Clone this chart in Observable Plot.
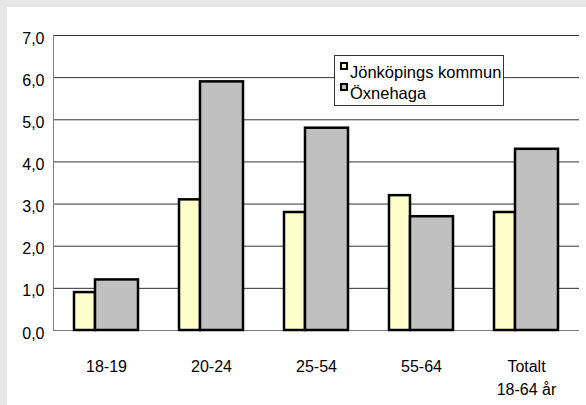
<!DOCTYPE html>
<html>
<head>
<meta charset="utf-8">
<script src="https://cdn.jsdelivr.net/npm/d3@7"></script>
<script src="https://cdn.jsdelivr.net/npm/@observablehq/plot@0.6"></script>
<style>
  html, body { margin: 0; padding: 0; width: 586px; height: 405px; overflow: hidden; background: #e6e6e6; font-family: "Liberation Sans", Arial, sans-serif; }
  #panel { position: absolute; left: 7px; top: 7px; width: 579px; height: 398px; background: #fff; }
  #chart { position: absolute; left: 0; top: 0; }
  #legend { position: absolute; left: 334px; top: 55px; width: 168px; height: 49px; background: #fff; border: 1px solid #333; }
  .sw { position: absolute; width: 4px; height: 4px; border: 2px solid #000; }
  .lt { position: absolute; font-size: 16.5px; line-height: 16px; color: #000; white-space: nowrap; }
</style>
</head>
<body>
<div id="panel"></div>
<div id="chart"></div>
<div id="legend"></div>
<script>
const categories = ["18-19", "20-24", "25-54", "55-64", "Totalt\n18-64 år"];
const jonkoping = [0.9, 3.1, 2.8, 3.2, 2.8];
const oxnehaga = [1.2, 5.9, 4.8, 2.7, 4.3];
const seriesNames = ["Jönköpings kommun", "Öxnehaga"];
const seriesColors = ["#ffffcc", "#c0c0c0"];
const yTicks = [0, 1, 2, 3, 4, 5, 6, 7];

const data = categories.map((c, i) => ({cat: c, j: jonkoping[i], o: oxnehaga[i]}));
const fmt = d => d.toFixed(1).replace(".", ",");

const chart = Plot.plot({
  width: 586,
  height: 405,
  marginLeft: 53,
  marginRight: 7,
  marginTop: 35,
  marginBottom: 75,
  style: {fontFamily: "Liberation Sans, Arial, sans-serif", fontSize: "16px", color: "#000", background: "transparent", overflow: "visible"},
  x: {domain: categories, paddingInner: 0.39, paddingOuter: 0.195, axis: null, label: null},
  y: {domain: [0, 7], axis: null, label: null},
  marks: [
    Plot.ruleY(yTicks.filter(d => d > 0), {stroke: "#333", strokeWidth: 1}),
    Plot.ruleY([0], {stroke: "#808080", strokeWidth: 1}),
    Plot.frame({anchor: "left", stroke: "#808080", strokeWidth: 1}),
    Plot.barY(data, {x: "cat", y: "j", fill: seriesColors[0], stroke: "#000", strokeWidth: 2.5, insetRight: 43}),
    Plot.barY(data, {x: "cat", y: "o", fill: seriesColors[1], stroke: "#000", strokeWidth: 2.5, insetLeft: 21}),
    Plot.axisY(yTicks, {tickSize: 0, tickPadding: 9, fontSize: 16, tickFormat: fmt, dy: 3, fill: "#000", label: null}),
    Plot.axisX({tickSize: 0, tickPadding: 25, fontSize: 16, lineHeight: 1.44, fill: "#000", label: null})
  ]
});
document.getElementById("chart").appendChild(chart);

// legend
const legend = document.getElementById("legend");
const baselines = [78, 99];
seriesNames.forEach((name, i) => {
  const sw = document.createElement("div");
  sw.className = "sw";
  sw.style.background = seriesColors[i];
  sw.style.left = (340 - 335) + "px";
  sw.style.top = (baselines[i] - 16 - 56) + "px";
  legend.appendChild(sw);
  const t = document.createElement("div");
  t.className = "lt";
  t.textContent = name;
  t.style.left = (350 - 335) + "px";
  t.style.top = (baselines[i] - 13.8 - 56) + "px";
  legend.appendChild(t);
});
</script>
</body>
</html>
